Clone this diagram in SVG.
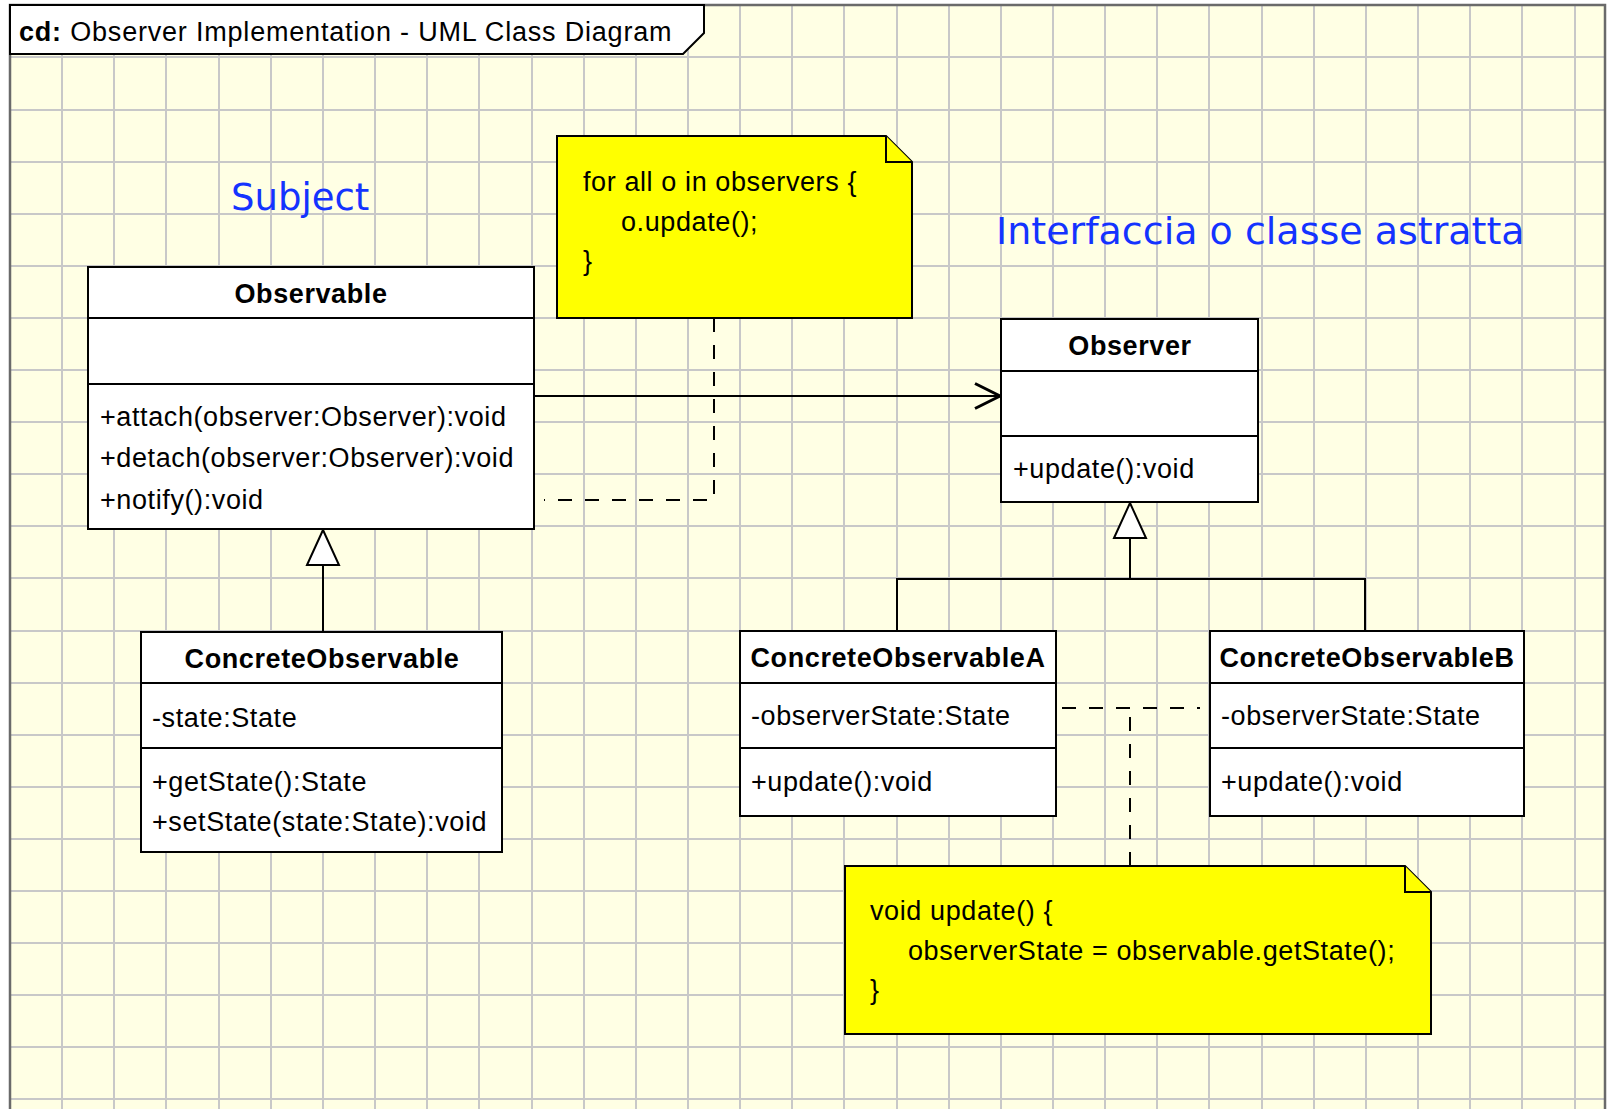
<svg xmlns="http://www.w3.org/2000/svg" width="1607" height="1109" viewBox="0 0 1607 1109">
  <defs>
    <style>
      .box{fill:#ffffff;stroke:#000;stroke-width:2}
      .sep{stroke:#000;stroke-width:2}
      .note{fill:#ffff00;stroke:#000;stroke-width:2;stroke-linejoin:miter}
      .t{font-family:"Liberation Sans",Arial,sans-serif;font-size:27px;letter-spacing:0.6px;fill:#000}
      .hd{font-weight:bold;text-anchor:middle}
      .lbl{font-family:"DejaVu Sans",sans-serif;font-size:37px;fill:#1433ff}
      .line{fill:none;stroke:#000;stroke-width:2}
      .dash{fill:none;stroke:#000;stroke-width:2;stroke-dasharray:14 13}
      .grid{fill:none;stroke:#c8c8c8;stroke-width:2}
    </style>
    <marker id="openArrow" markerUnits="userSpaceOnUse" markerWidth="30" markerHeight="30" refX="25" refY="12.5" orient="auto" overflow="visible">
      <path d="M0,0 L25,12.5 L0,25" fill="none" stroke="#000" stroke-width="3"/>
    </marker>
    <marker id="genTriangle" markerUnits="userSpaceOnUse" markerWidth="40" markerHeight="40" refX="35" refY="16" orient="auto" overflow="visible">
      <path d="M0,0 L35,16 L0,32 Z" fill="#fff" stroke="#000" stroke-width="2"/>
    </marker>
  </defs>

  <!-- canvas and diagram frame -->
  <rect x="0" y="0" width="1607" height="1109" fill="#ffffff"/>
  <rect x="10" y="5" width="1596" height="1110" fill="#ffffe4"/>

  <!-- grid -->
  <path class="grid" d="M62,5V1109 M114,5V1109 M166,5V1109 M219,5V1109 M271,5V1109 M323,5V1109 M375,5V1109 M427,5V1109 M479,5V1109 M532,5V1109 M584,5V1109 M636,5V1109 M688,5V1109 M740,5V1109 M792,5V1109 M844,5V1109 M897,5V1109 M949,5V1109 M1001,5V1109 M1053,5V1109 M1105,5V1109 M1157,5V1109 M1209,5V1109 M1262,5V1109 M1314,5V1109 M1366,5V1109 M1418,5V1109 M1470,5V1109 M1522,5V1109 M1575,5V1109
    M10,57H1606 M10,110H1606 M10,162H1606 M10,214H1606 M10,266H1606 M10,318H1606 M10,370H1606 M10,422H1606 M10,474H1606 M10,526H1606 M10,578H1606 M10,631H1606 M10,683H1606 M10,735H1606 M10,787H1606 M10,839H1606 M10,891H1606 M10,943H1606 M10,995H1606 M10,1047H1606 M10,1099H1606"/>

  <rect x="10" y="5" width="1595" height="1115" fill="none" stroke="#6a6a6a" stroke-width="2.5"/>

  <!-- frame name tab -->
  <g id="frame-title">
    <path d="M10,5 H704 V33 L683,54 H10 Z" fill="#ffffff" stroke="#000" stroke-width="2"/>
    <text class="t" x="19" y="41" style="letter-spacing:0.8px"><tspan font-weight="bold">cd:</tspan> Observer Implementation - UML Class Diagram</text>
  </g>

  <!-- free labels -->
  <text class="lbl" x="231" y="210">Subject</text>
  <text class="lbl" x="996" y="244" style="font-size:38px">Interfaccia o classe astratta</text>

  <!-- connectors -->
  <g id="connectors">
    <path class="line" d="M534,396 H1000" marker-end="url(#openArrow)"/>
    <path class="line" d="M323,632 V530" marker-end="url(#genTriangle)"/>
    <path class="line" d="M897,631 V579 H1365 V631"/>
    <path class="line" d="M1130,579 V503" marker-end="url(#genTriangle)"/>
    <path class="dash" d="M714,318 V500 H544"/>
    <path class="dash" d="M1130,866 V708"/>
    <path class="dash" d="M1062,708 H1200"/>
  </g>

  <!-- Observable -->
  <g id="observable">
    <rect class="box" x="88" y="267" width="446" height="262"/>
    <path class="sep" d="M88,318 H534 M88,384 H534"/>
    <text class="t hd" x="311" y="303">Observable</text>
    <text class="t" x="100" y="426">+attach(observer:Observer):void</text>
    <text class="t" x="100" y="467">+detach(observer:Observer):void</text>
    <text class="t" x="100" y="509">+notify():void</text>
  </g>

  <!-- note on notify -->
  <g id="note-notify">
    <path class="note" d="M557,136 H886 L912,162 V318 H557 Z"/>
    <path class="note" d="M886,136 V162 H912"/>
    <text class="t" x="583" y="191">for all o in observers {</text>
    <text class="t" x="621" y="231">o.update();</text>
    <text class="t" x="583" y="270">}</text>
  </g>

  <!-- Observer -->
  <g id="observer">
    <rect class="box" x="1001" y="319" width="257" height="183"/>
    <path class="sep" d="M1001,371 H1258 M1001,436 H1258"/>
    <text class="t hd" x="1130" y="355">Observer</text>
    <text class="t" x="1013" y="478">+update():void</text>
  </g>

  <!-- ConcreteObservable -->
  <g id="concrete-observable">
    <rect class="box" x="141" y="632" width="361" height="220"/>
    <path class="sep" d="M141,683 H502 M141,748 H502"/>
    <text class="t hd" x="322" y="668">ConcreteObservable</text>
    <text class="t" x="152" y="727">-state:State</text>
    <text class="t" x="152" y="791">+getState():State</text>
    <text class="t" x="152" y="831">+setState(state:State):void</text>
  </g>

  <!-- ConcreteObservableA -->
  <g id="concrete-observable-a">
    <rect class="box" x="740" y="631" width="316" height="185"/>
    <path class="sep" d="M740,683 H1056 M740,748 H1056"/>
    <text class="t hd" x="898" y="667">ConcreteObservableA</text>
    <text class="t" x="751" y="725">-observerState:State</text>
    <text class="t" x="751" y="791">+update():void</text>
  </g>

  <!-- ConcreteObservableB -->
  <g id="concrete-observable-b">
    <rect class="box" x="1210" y="631" width="314" height="185"/>
    <path class="sep" d="M1210,683 H1524 M1210,748 H1524"/>
    <text class="t hd" x="1367" y="667">ConcreteObservableB</text>
    <text class="t" x="1221" y="725">-observerState:State</text>
    <text class="t" x="1221" y="791">+update():void</text>
  </g>

  <!-- note on update -->
  <g id="note-update">
    <path class="note" d="M845,866 H1405 L1431,892 V1034 H845 Z"/>
    <path class="note" d="M1405,866 V892 H1431"/>
    <text class="t" x="870" y="920">void update() {</text>
    <text class="t" x="908" y="960">observerState = observable.getState();</text>
    <text class="t" x="870" y="999">}</text>
  </g>
</svg>
